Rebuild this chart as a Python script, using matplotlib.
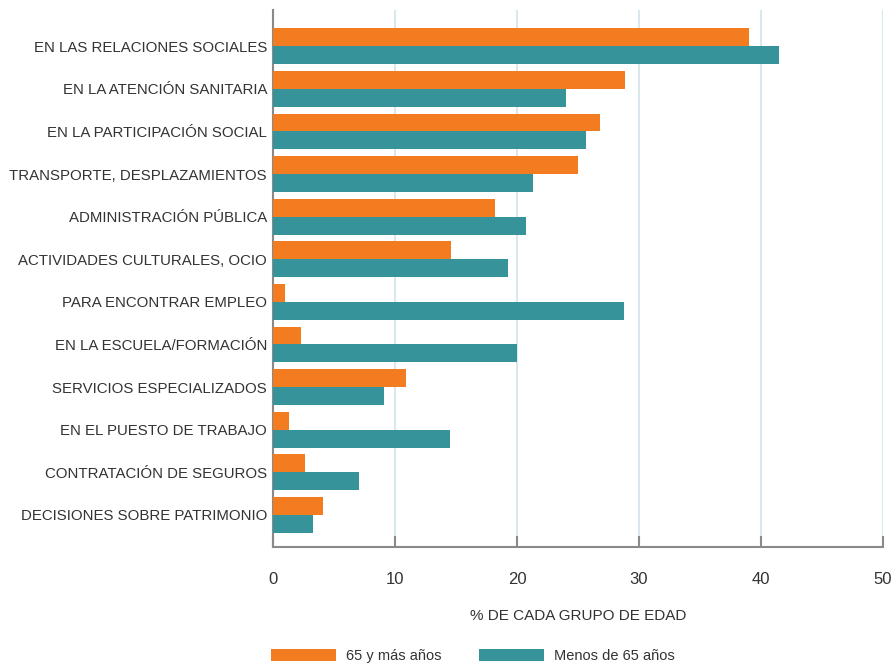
import matplotlib
matplotlib.use("Agg")
import matplotlib.pyplot as plt
import numpy as np

categories = [
    "EN LAS RELACIONES SOCIALES",
    "EN LA ATENCIÓN SANITARIA",
    "EN LA PARTICIPACIÓN SOCIAL",
    "TRANSPORTE, DESPLAZAMIENTOS",
    "ADMINISTRACIÓN PÚBLICA",
    "ACTIVIDADES CULTURALES, OCIO",
    "PARA ENCONTRAR EMPLEO",
    "EN LA ESCUELA/FORMACIÓN",
    "SERVICIOS ESPECIALIZADOS",
    "EN EL PUESTO DE TRABAJO",
    "CONTRATACIÓN DE SEGUROS",
    "DECISIONES SOBRE PATRIMONIO",
]
mayores_65 = [39.0, 28.9, 26.8, 25.0, 18.2, 14.6, 1.0, 2.3, 10.9, 1.3, 2.6, 4.1]
menores_65 = [41.5, 24.0, 25.7, 21.3, 20.7, 19.3, 28.8, 20.0, 9.1, 14.5, 7.0, 3.3]
series_names = ["65 y más años", "Menos de 65 años"]
xticks = [0, 10, 20, 30, 40, 50]
xlabel = "% DE CADA GRUPO DE EDAD"

plt.rcParams['font.family'] = ['Liberation Sans', 'DejaVu Sans']

ORANGE = "#F47C20"
TEAL = "#36939A"
TEXT = "#333333"
GREY = "#8a8a8a"

fig = plt.figure(figsize=(8.96, 6.65), dpi=100)
ax = fig.add_axes([0.305, 0.177, 0.680, 0.808])

y = np.arange(len(categories))
h = 0.42
ax.barh(y - h / 2, mayores_65, height=h, color=ORANGE, label=series_names[0], zorder=3)
ax.barh(y + h / 2, menores_65, height=h, color=TEAL, label=series_names[1], zorder=3)

ax.set_ylim(11.76, -0.85)
ax.set_xlim(0, 50)
ax.set_yticks(y)
ax.set_yticklabels(categories, fontsize=10.8, color=TEXT)
ax.tick_params(axis='y', length=0, pad=4.5)
ax.set_xticks(xticks)
ax.set_xticklabels([str(t) for t in xticks], fontsize=12, color=TEXT)
ax.tick_params(axis='x', direction='in', length=8, width=1.5, color=GREY, pad=18)

ax.grid(axis='x', color="#d9e8ec", linewidth=1.5, zorder=0)
ax.set_axisbelow(True)
for s in ['top', 'right']:
    ax.spines[s].set_visible(False)
for s in ['left', 'bottom']:
    ax.spines[s].set_color(GREY)
    ax.spines[s].set_linewidth(1.5)

ax.set_xlabel(xlabel, fontsize=11, color=TEXT, labelpad=15.5)

leg = fig.legend(loc='lower left', bbox_to_anchor=(269 / 896, 0.0), ncol=2, frameon=False,
                 fontsize=10.5, handlelength=4.45, handleheight=0.9, columnspacing=2.55,
                 handletextpad=0.7, borderpad=0.15, borderaxespad=0.0)
for t in leg.get_texts():
    t.set_color(TEXT)

fig.savefig("out.png", dpi=100)
